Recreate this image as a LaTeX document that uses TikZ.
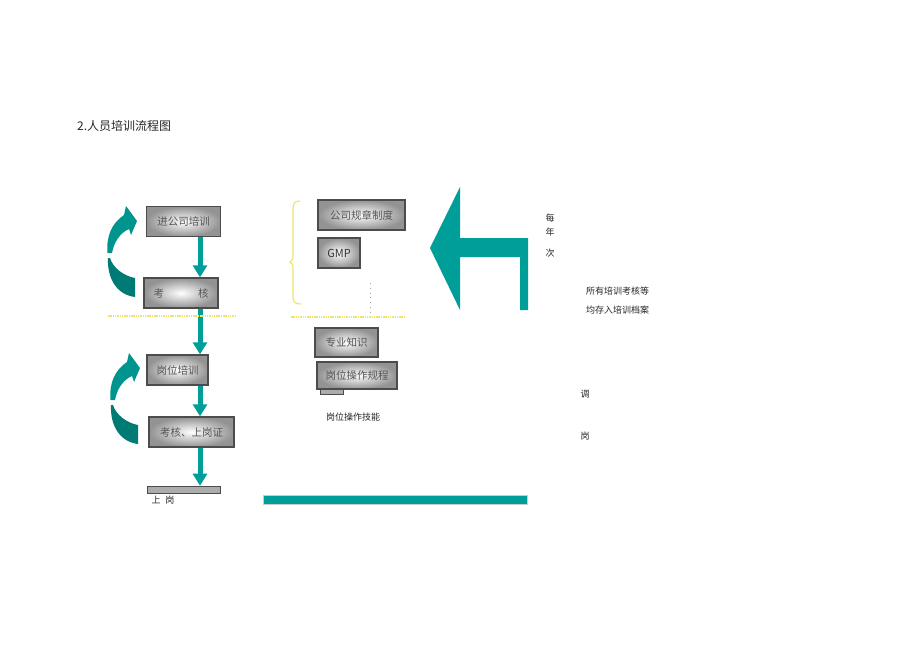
\documentclass[tikz,border=0pt]{standalone}
\usepackage{fontspec}
\setmainfont{Noto Sans CJK SC}
\usetikzlibrary{arrows.meta}
\definecolor{teal1}{RGB}{0,158,152}
\definecolor{teal2}{RGB}{0,148,142}
\definecolor{teal3}{RGB}{0,122,116}
\definecolor{ylw}{RGB}{240,228,110}
\definecolor{boxtxt}{RGB}{85,85,85}
\tikzset{
  gbox/.style={draw=gray!60!black, line width=1.4pt, inner color=white, outer color=gray!85,
    inner sep=0pt, font=\fontsize{10.5pt}{12pt}\selectfont, text=boxtxt},
  downarr/.style={teal1, line width=5pt, -{Triangle[width=14pt,length=12pt]}},
  yline/.style={ylw, line width=1.8pt, dash pattern=on 1.5pt off 0.8pt},
  plain/.style={inner sep=0pt, font=\fontsize{9pt}{11pt}\selectfont, text=black!85},
  curvedarr/.pic={
    \fill[teal2] (107.5,253) .. controls (106,236) and (112,223) .. (124,215)
      -- (126,206) -- (137,221) -- (131,235) -- (129,229)
      .. controls (120,233) and (114,242) .. (112,253) -- cycle;
    \fill[teal3] (108,258) .. controls (107,280) and (118,295) .. (135,297)
      -- (135,278) .. controls (124,276) and (113,268) .. (110,258) -- cycle;
  }
}
\begin{document}
\begin{tikzpicture}[x=1pt,y=-1pt]
\useasboundingbox (0,0) rectangle (920,650);
\fill[white] (0,0) rectangle (920,650);

% title
\node[anchor=west, inner sep=0pt, font=\fontsize{12pt}{14pt}\selectfont, text=black!85] (title) at (77,126) {2.人员培训流程图};

% left column
\coordinate (ax) at (200,0);
\node[gbox, minimum width=74pt, minimum height=30pt] (b1) at (183.5,221.5) {进公司培训};
\node[gbox, minimum width=74pt, minimum height=30pt] (b2) at (181,293) {考\hspace{34pt}核};
\node[gbox, minimum width=61pt, minimum height=30pt] (b3) at (177.5,370) {岗位培训};
\node[gbox, minimum width=85pt, minimum height=30pt] (b4) at (191.5,432) {考核、上岗证};
\node[draw=gray!60!black, fill=gray!65, line width=0.6pt, minimum width=73pt, minimum height=7pt, inner sep=0pt] (bar1) at (183.5,489.5) {};
\node[plain] (t1) at (163,500) {上\hspace{5pt}岗};

\draw[downarr] (b1.south -| ax) -- (b2.north -| ax);
\draw[downarr] (b2.south -| ax) -- (b3.north -| ax);
\draw[downarr] (b3.south -| ax) -- (b4.north -| ax);
\draw[downarr] (b4.south -| ax) -- (bar1.north -| ax);

\pic at (0,0) {curvedarr};
\pic at (3,147) {curvedarr};

\coordinate (yl1a) at (108,316);
\coordinate (yl1b) at (235,316);
\draw[yline] (yl1a) -- (yl1b);

% middle column
\draw[ylw, line width=1.2pt] (300,201) .. controls (294,201) and (293,204) .. (293,210) -- (293,255)
  .. controls (293,259) and (292,261) .. (290,262) .. controls (292,263) and (293,265) .. (293,269)
  -- (293,297) .. controls (293,302) and (295,304) .. (301,304);
\node[gbox, minimum width=87pt, minimum height=30pt] (b5) at (361.5,215) {公司规章制度};
\node[gbox, minimum width=42pt, minimum height=30pt, font=\fontsize{11pt}{12pt}\selectfont, text=black!80] (b6) at (339,253) {GMP};
\coordinate (d1) at (370,283);
\coordinate (d2) at (370,318);
\draw[gray!70, line width=0.8pt, dash pattern=on 0.8pt off 4pt] (d1) -- (d2);
\coordinate (yl2a) at (291,317);
\coordinate (yl2b) at (404,317);
\draw[yline] (yl2a) -- (yl2b);
\node[gbox, minimum width=63pt, minimum height=29pt] (b7) at (346.5,342.5) {专业知识};
\node[gbox, minimum width=80pt, minimum height=27pt] (b8) at (357,375.5) {岗位操作规程};
\node[draw=gray!60!black, fill=gray!65, line width=0.5pt, minimum width=23pt, minimum height=5pt, inner sep=0pt] (bar2) at (331.5,391.5) {};
\node[plain] (t2) at (353,417) {岗位操作技能};

% big arrow
\fill[teal1] (430,248) -- (460,187) -- (460,238) -- (528,238) -- (528,310) -- (520,310)
  -- (520,257) -- (460,257) -- (460,310) -- cycle;

% right texts
\node[plain] (t3) at (550,218) {每};
\node[plain] (t4) at (550,232) {年};
\node[plain] (t5) at (550,253) {次};
\node[plain, anchor=west] (t6) at (586,291) {所有培训考核等};
\node[plain, anchor=west] (t7) at (586,310) {均存入培训档案};
\node[plain] (t8) at (585,394) {调};
\node[plain] (t9) at (585,436) {岗};

% bottom bar
\draw[gray!40, fill=teal1, line width=0.8pt] (263,495) rectangle (527,504);
\end{tikzpicture}
\end{document}
